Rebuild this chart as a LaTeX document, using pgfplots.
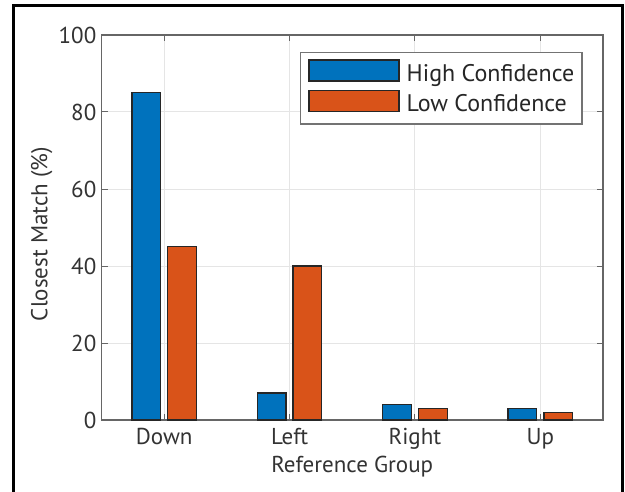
\documentclass[border=0pt]{standalone}
\usepackage{fontspec}
\setmainfont{PT Sans}
\usepackage{pgfplots}
\pgfplotsset{compat=1.18}
\definecolor{mblue}{rgb}{0,0.447,0.741}
\definecolor{morange}{rgb}{0.85,0.325,0.098}
\begin{document}
\begin{tikzpicture}
\useasboundingbox (0,0) rectangle (625pt,-492pt);
\fill[white] (0,0) rectangle (625pt,-492pt);
\draw[line width=3pt] (13.5pt,-495pt) -- (13.5pt,-5.5pt) -- (622.5pt,-5.5pt) -- (622.5pt,-495pt);
\begin{axis}[
  at={(101.5pt,-420pt)}, anchor=south west,
  scale only axis, width=501.5pt, height=385pt,
  xmin=0.5, xmax=4.5, ymin=0, ymax=100,
  xtick={1,2,3,4}, xticklabels={Down,Left,Right,Up},
  ytick={0,20,40,60,80,100},
  ybar,
  grid=major, major grid style={black!10, line width=1pt},
  axis line style={black!60, line width=1.6pt},
  tick style={black!60, line width=1pt},
  tick align=inside, major tick length=6pt,
  /pgf/number format/assume math mode=true,
  font=\fontsize{23}{27}\selectfont,
  ticklabel style={font=\fontsize{23}{27}\selectfont, text=black!80, inner sep=0pt},
  xticklabel shift=8pt, yticklabel shift=5pt,
  xlabel={Reference Group}, ylabel={Closest Match (\%)},
  label style={text=black!80},
  xlabel style={at={(axis description cs:0.5,-0.12)}, anchor=center},
  ylabel style={at={(axis description cs:-0.119,0.483)}, anchor=center, rotate=0},
  legend style={at={(1,1)}, anchor=north east, xshift=-20pt, yshift=-16.7pt,
    draw=black!55, line width=1.5pt, fill=white, inner xsep=8pt, inner ysep=7pt,
    font=\fontsize{24}{28}\selectfont, text=black!85, row sep=3pt,
    nodes={inner sep=0pt, anchor=west, text height=16pt, text depth=5pt}},
  legend cell align=left,
  /tikz/every odd column/.append style={column sep=7pt},
]
\addplot[fill=mblue, draw=black!85, line width=1.3pt, bar width=0.229, bar shift=-0.143,
  legend image code/.code={\draw[fill=mblue, draw=black!85, line width=1.3pt] (0pt,-5pt) rectangle (90pt,16pt);}]
  coordinates {(1,85) (2,7) (3,4) (4,3)};
\addplot[fill=morange, draw=black!85, line width=1.3pt, bar width=0.229, bar shift=0.143,
  legend image code/.code={\draw[fill=morange, draw=black!85, line width=1.3pt] (0pt,-5pt) rectangle (90pt,16pt);}]
  coordinates {(1,45) (2,40) (3,3) (4,2)};
\legend{High Confidence, Low Confidence}
\end{axis}
\end{tikzpicture}
\end{document}
